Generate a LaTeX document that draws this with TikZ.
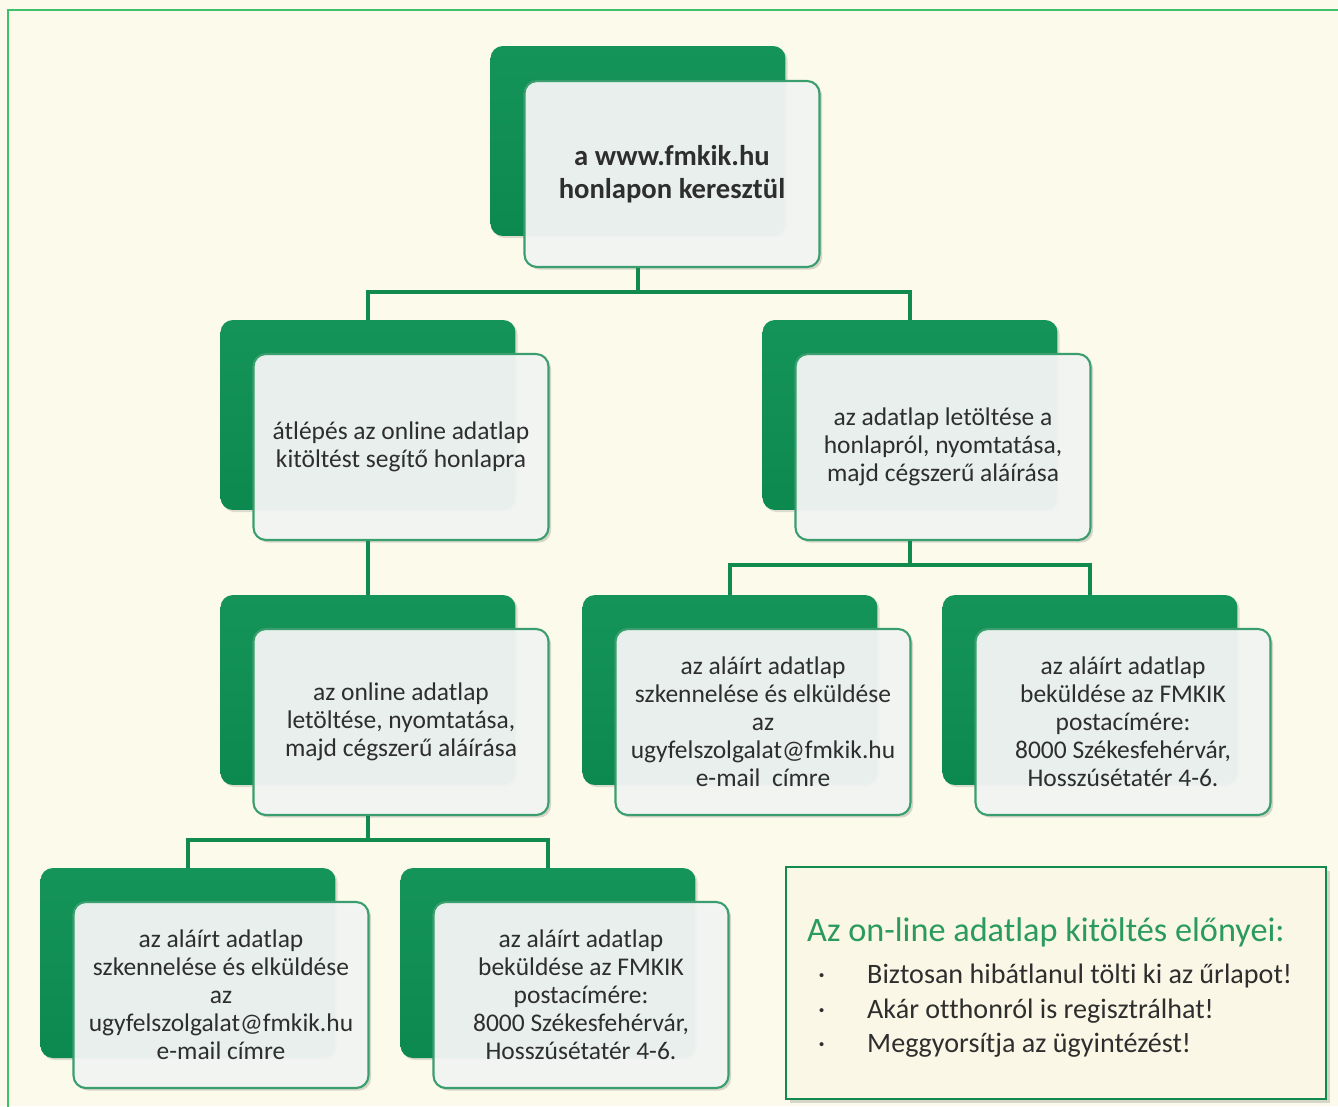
\documentclass[tikz,border=0pt]{standalone}
\usepackage{fontspec}
\setmainfont{Carlito}[Ligatures={TeX,NoCommon}]
\usetikzlibrary{shadows}
\definecolor{paper}{HTML}{FCFAEA}
\definecolor{framegreen}{HTML}{3DC26A}
\definecolor{cardgreen}{HTML}{0C894E}
\definecolor{cardtop}{HTML}{159459}
\definecolor{cardedge}{HTML}{3A9E6E}
\definecolor{cardface}{HTML}{F4F6F5}
\definecolor{cardtext}{HTML}{2E2E2E}
\definecolor{linkgreen}{HTML}{118A4E}
\definecolor{notefill}{HTML}{FAF7E6}
\definecolor{notetitle}{HTML}{2A9A5E}
\tikzset{
  backcard/.style={rectangle, rounded corners=7pt, top color=cardtop, bottom color=cardgreen,
    minimum width=5.9cm, minimum height=3.8cm,
    drop shadow={shadow xshift=1.2pt, shadow yshift=-1.2pt, opacity=0.25}},
  frontcard/.style={rectangle, rounded corners=7pt, draw=cardedge, line width=1.2pt,
    fill=cardface, fill opacity=0.94, text opacity=1, text=cardtext,
    minimum width=5.9cm, minimum height=3.72cm, align=center,
    font=\fontsize{14.5}{15.9}\selectfont,
    drop shadow={shadow xshift=1.5pt, shadow yshift=-1.5pt, opacity=0.3}},
  link/.style={draw=linkgreen, line width=2.3pt},
  notebox/.style={rectangle, draw=linkgreen, line width=1.4pt, fill=notefill,
    drop shadow={shadow xshift=2pt, shadow yshift=-2pt, opacity=0.3}},
  noteline/.style={anchor=base west, text=cardtext, font=\fontsize{16}{19}\selectfont},
}
\begin{document}
\begin{tikzpicture}[x=0.02cm, y=-0.02cm]
  \useasboundingbox (0,0) rectangle (1338,1106);
  \fill[paper] (0,0) rectangle (1338,1106);
  \draw[framegreen, line width=0.8pt] (8,10) rectangle (1360,1130);

  % top card
  \node[backcard] (webB) at (638,141) {};
  \node[frontcard, font=\bfseries\fontsize{16.3}{18.7}\selectfont] (web) at (672,174)
    {a www.fmkik.hu\\honlapon keresztül};

  % second row
  \node[backcard] (onlineB) at (368,415) {};
  \node[frontcard] (online) at (401,447) {átlépés az online adatlap\\kitöltést segítő honlapra};
  \node[backcard] (downB) at (910,415) {};
  \node[frontcard] (down) at (943,447) {az adatlap letöltése a\\honlapról, nyomtatása,\\majd cégszerű aláírása};

  % third row
  \node[backcard] (printB) at (368,690) {};
  \node[frontcard] (print) at (401,722) {az online adatlap\\letöltése, nyomtatása,\\majd cégszerű aláírása};
  \node[backcard] (scanB) at (730,690) {};
  \node[frontcard] (scan) at (763,722) {az aláírt adatlap\\szkennelése és elküldése\\az\\ugyfelszolgalat@fmkik.hu\\e-mail\ \ címre};
  \node[backcard] (postB) at (1090,690) {};
  \node[frontcard] (post) at (1123,722) {az aláírt adatlap\\beküldése az FMKIK\\postacímére:\\8000 Székesfehérvár,\\Hosszúsétatér 4-6.};

  % fourth row
  \node[backcard] (scanlB) at (188,963) {};
  \node[frontcard] (scanl) at (221,995) {az aláírt adatlap\\szkennelése és elküldése\\az\\ugyfelszolgalat@fmkik.hu\\e-mail címre};
  \node[backcard] (postlB) at (548,963) {};
  \node[frontcard] (postl) at (581,995) {az aláírt adatlap\\beküldése az FMKIK\\postacímére:\\8000 Székesfehérvár,\\Hosszúsétatér 4-6.};

  % connectors
  \draw[link] (webB |- web.south) -- ++(0,24) -| (onlineB.north);
  \draw[link] (webB |- web.south) -- ++(0,24) -| (downB.north);
  \draw[link] (onlineB |- online.south) -- (printB.north);
  \draw[link] (downB |- down.south) -- ++(0,24) -| (scanB.north);
  \draw[link] (downB |- down.south) -- ++(0,24) -| (postB.north);
  \draw[link] (printB |- print.south) -- ++(0,24) -| (scanlB.north);
  \draw[link] (printB |- print.south) -- ++(0,24) -| (postlB.north);

  % advantages
  \node[notebox, minimum width=10.8cm, minimum height=4.64cm, anchor=north west] (perks) at (785,866) {};
  \node[anchor=base west, text=notetitle, font=\fontsize{19.5}{23}\selectfont] (perkstitle) at (801,941)
    {Az on-line adatlap kitöltés előnyei:};
  \foreach \y/\txt in {983/{Biztosan hibátlanul tölti ki az űrlapot!},
                       1018/{Akár otthonról is regisztrálhat!},
                       1052/{Meggyorsítja az ügyintézést!}} {
    \node[noteline] at (812,\y) {·};
    \node[noteline] at (861,\y) {\txt};
  }
\end{tikzpicture}
\end{document}
